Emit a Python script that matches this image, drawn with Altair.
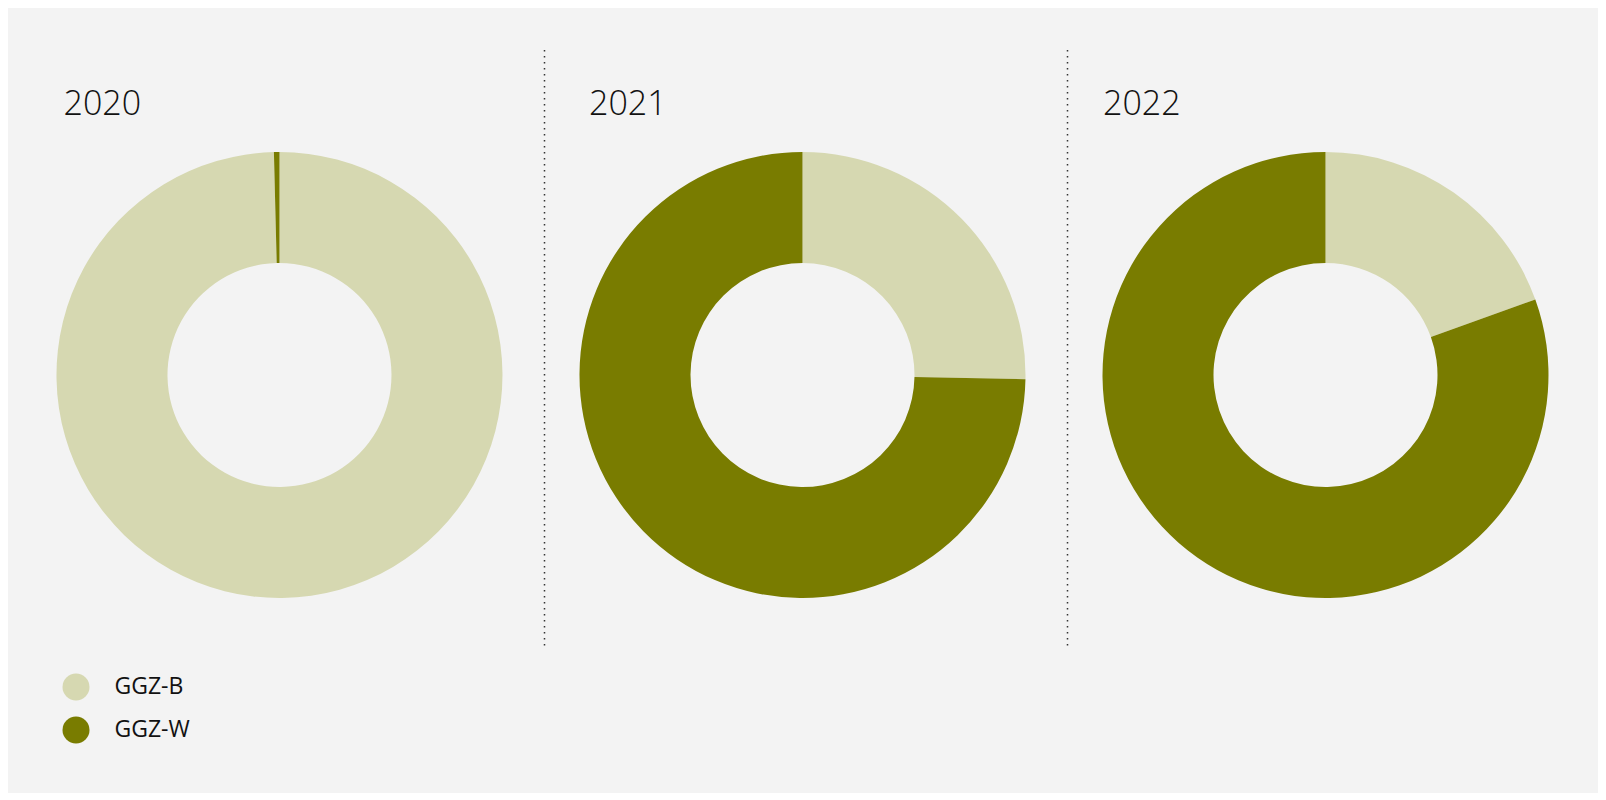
import altair as alt
import pandas as pd

years = ["2020", "2021", "2022"]
ggz_b = [99.6, 25.3, 19.5]
ggz_w = [0.4, 74.7, 80.5]
categories = ["GGZ-B", "GGZ-W"]
colors = ["#d6d8b1", "#797c00"]

rows = []
for y, b, w in zip(years, ggz_b, ggz_w):
    rows.append({"year": y, "cat": "GGZ-B", "value": b, "order": 0})
    rows.append({"year": y, "cat": "GGZ-W", "value": w, "order": 1})
df = pd.DataFrame(rows)

W, H = 523, 743
RULE_H = 600
FONT = "Open Sans"


def panel(year, divider, title_x):
    arc = alt.Chart(df).transform_filter(alt.datum.year == year).mark_arc(
        radius=223, radius2=112
    ).encode(
        theta=alt.Theta("value:Q", stack=True),
        color=alt.Color(
            "cat:N",
            scale=alt.Scale(domain=categories, range=colors),
            legend=alt.Legend(
                title=None, orient="none", legendX=44.5, legendY=623.5,
                symbolType="circle", symbolSize=729, symbolStrokeWidth=0,
                labelFontSize=23, labelFont=FONT, labelColor="#111",
                labelOffset=25, rowPadding=16, padding=0,
            ),
        ),
        order=alt.Order("order:Q"),
        y=alt.value(325),
    )
    title = alt.Chart(pd.DataFrame({"year": [year]})).mark_text(
        align="left", baseline="alphabetic", fontSize=34, font=FONT,
        fontWeight=300, color="#111"
    ).encode(text="year:N", x=alt.value(title_x), y=alt.value(65))
    layers = [arc, title]
    if divider:
        rule = alt.Chart(pd.DataFrame({"year": [year]})).mark_rule(
            strokeDash=[1.5, 4.5], color="#333", strokeWidth=1.5
        ).encode(x=alt.value(3.5), y=alt.value(0), y2=alt.value(RULE_H))
        layers.append(rule)
    return alt.layer(*layers).properties(width=W, height=H)


chart = alt.hconcat(
    panel("2020", False, 45.5),
    panel("2021", True, 48),
    panel("2022", True, 39),
    spacing=0,
).properties(
    background="#f3f3f3",
    padding={"left": 10, "top": 41, "right": 11, "bottom": 0},
).configure_view(stroke=None)

chart.save("out.html", embed_options={"renderer": "svg", "actions": False})
